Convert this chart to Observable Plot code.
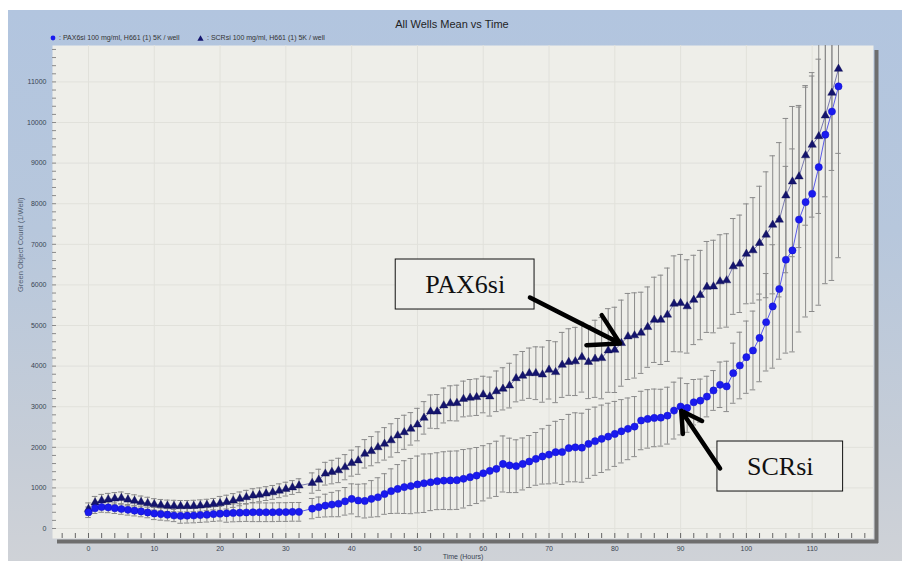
<!DOCTYPE html>
<html>
<head>
<meta charset="utf-8">
<script src="https://cdn.jsdelivr.net/npm/d3@7"></script>
<script src="https://cdn.jsdelivr.net/npm/@observablehq/plot@0.6"></script>
<style>
  body { margin: 0; background: #fff; }
  #wrap { position: relative; width: 904px; height: 561px; overflow: hidden; font-family: "Liberation Sans", Arial, sans-serif; }
  #panel { position: absolute; left: 8px; top: 10px; width: 894px; height: 551px;
    background: linear-gradient(to bottom, #B2C5DF 0%, #B7C7DC 40%, #C6CDD7 80%, #CFD2D7 100%); }
  #title { position: absolute; left: 0; top: 18px; width: 904px; text-align: center; font-size: 11px; color: #1f1f1f; }
  .leg { position: absolute; top: 33px; font-size: 7px; color: #333; white-space: nowrap; line-height: 9px; }
  .leg svg { vertical-align: -1px; margin-right: 3px; }
  #chart { position: absolute; left: 0; top: 0; }
</style>
</head>
<body>
<div id="wrap">
  <div id="panel"></div>
  <div id="title"></div>
  <div id="leg1" class="leg" style="left:50px"></div>
  <div id="leg2" class="leg" style="left:197px"></div>
  <div id="chart"></div>
</div>
<script>
// ---------- data ----------
const chartTitle = "All Wells Mean vs Time";
const seriesNames = [": PAX6si 100 mg/ml, H661 (1) 5K / well", ": SCRsi 100 mg/ml, H661 (1) 5K / well"];
const xLabel = "Time (Hours)";
const yLabel = "Green Object Count (1/Well)";

const hours = [0,1,2,3,4,5,6,7,8,9,10,11,12,13,14,15,16,17,18,19,20,21,22,23,24,25,26,27,28,29,30,31,32,
  34,35,36,37,38,39,40,41,42,43,44,45,46,47,48,49,50,51,52,53,54,55,56,57,58,59,60,
  61,62,63,64,65,66,67,68,69,70,71,72,73,74,75,76,77,78,79,80,81,82,83,84,85,86,87,88,89,90,
  91,92,93,94,95,96,97,98,99,100,101,102,103,104,105,106,107,108,109,110,111,112,113,114];

// circles (PAX6si legend entry)
const pax6siMean = [400,500,530,520,500,480,460,440,420,395,370,355,340,320,310,315,320,330,340,355,365,375,385,390,395,400,400,400,400,405,405,410,410,
  490,525,565,590,610,670,730,690,680,730,770,850,920,975,1020,1045,1085,1115,1140,1165,1180,1185,1190,1225,1265,1305,1360,
  1420,1470,1590,1555,1535,1590,1650,1715,1775,1820,1880,1885,1980,2000,1990,2085,2150,2210,2265,2330,2395,2455,2510,2660,2700,2725,2730,2780,2905,3005,
  2970,3110,3150,3250,3400,3540,3500,3825,4015,4220,4385,4695,5080,5470,5900,6620,6850,7610,8040,8245,8900,9700,10270,10890];
const pax6siErr = [130,130,130,130,130,130,130,130,130,130,150,150,150,150,180,180,180,180,180,180,180,220,220,220,220,230,230,230,230,230,230,230,230,
  250,250,280,300,320,340,370,400,420,450,480,500,550,600,650,680,700,720,700,700,710,720,720,720,700,690,680,
  670,680,690,670,650,640,640,650,680,720,760,800,830,850,850,850,840,830,820,800,780,760,740,720,720,710,700,700,700,700,
  600,560,530,500,490,560,620,740,820,890,970,1080,1200,1520,1730,2300,2500,2770,2830,2900,3400,3670,4160,4220];

// triangles (SCRsi legend entry)
const scrsiMean = [480,640,690,715,735,750,710,680,650,620,595,575,560,555,550,550,555,565,580,600,620,650,690,730,770,810,830,860,890,930,970,1010,1055,
  1120,1200,1350,1390,1430,1510,1610,1675,1840,1905,2000,2085,2170,2290,2370,2455,2560,2725,2880,2880,3030,3085,3090,3190,3220,3235,3300,
  3250,3380,3440,3520,3700,3760,3825,3825,3790,3910,3850,4030,4100,4115,4220,4100,4180,4195,4385,4400,4565,4730,4755,4820,4960,5140,5140,5265,5535,5550,
  5470,5630,5750,5950,5960,6085,6110,6455,6520,6765,6850,7030,7235,7480,7605,8200,8545,8670,9190,9450,9660,10170,10730,11320];
const scrsiErr = [150,150,150,150,150,150,150,150,150,150,140,140,140,140,140,140,140,140,140,140,170,170,170,170,170,170,170,170,170,170,170,170,170,
  250,260,280,290,300,310,320,340,350,360,380,400,410,420,420,400,400,400,410,420,430,430,440,440,450,450,450,
  480,500,520,550,580,600,620,650,680,720,750,800,820,840,860,900,950,1000,1030,1050,1060,1060,1050,1000,990,1050,1100,1150,1180,1200,
  1150,1100,1100,1120,1140,1150,1150,1180,1200,1230,1300,1400,1550,1700,1900,1900,1850,1750,1720,1780,1900,2000,1910,2080];

const xTickLabels = [0,10,20,30,40,50,60,70,80,90,100,110];
const yTickLabels = [0,1000,2000,3000,4000,5000,6000,7000,8000,9000,10000,11000];

// annotations (data coordinates)
const annoText = ["PAX6si", "SCRsi"];
const annoBoxX1 = [46.7, 95.6];
const annoBoxX2 = [67.8, 114.7];
const annoBoxY1 = [5394, 911];
const annoBoxY2 = [6626, 2143];
const arrowFromX = [67.1, 96.0];
const arrowFromY = [5690, 1480];
const arrowToX = [80.8, 90.1];
const arrowToY = [4560, 2900];

// ---------- build ----------
document.getElementById("title").textContent = chartTitle;
const circleIcon = '<svg width="6" height="6"><circle cx="3" cy="3" r="2.4" fill="#1a1aef"/></svg>';
const triIcon = '<svg width="7" height="6"><path d="M3.5,0.3 L6.6,5.8 L0.4,5.8 Z" fill="#14146e"/></svg>';
document.getElementById("leg1").innerHTML = circleIcon + seriesNames[0];
document.getElementById("leg2").innerHTML = triIcon + seriesNames[1];

const xDomain = [-5.47, 119.32];
const yDomain = [-246, 11897];
const pxX = (xDomain[1] - xDomain[0]) / (873 - 52);
const pxY = (yDomain[1] - yDomain[0]) / (538 - 45);

const circles = hours.map((t, i) => ({t, v: pax6siMean[i], e: pax6siErr[i]}));
const tris = hours.map((t, i) => ({t, v: scrsiMean[i], e: scrsiErr[i]}));
const annos = annoText.map((s, i) => ({s, x1: annoBoxX1[i], x2: annoBoxX2[i], y1: annoBoxY1[i], y2: annoBoxY2[i],
  ax1: arrowFromX[i], ay1: arrowFromY[i], ax2: arrowToX[i], ay2: arrowToY[i]}));

const minorX = d3.range(-4, 119, 2);
const minorY = d3.range(0, 11801, 200);
const errColor = "#8a8a8a";
const capW = 0.42;

function errMarks(data) {
  return [
    Plot.ruleX(data, {x: "t", y1: d => d.v - d.e, y2: d => d.v + d.e, stroke: errColor, strokeWidth: 1, clip: true}),
    Plot.ruleY(data, {y: d => d.v + d.e, x1: d => d.t - capW, x2: d => d.t + capW, stroke: errColor, strokeWidth: 1, clip: true}),
    Plot.ruleY(data, {y: d => d.v - d.e, x1: d => d.t - capW, x2: d => d.t + capW, stroke: errColor, strokeWidth: 1, clip: true})
  ];
}

const chart = Plot.plot({
  width: 904,
  height: 561,
  marginLeft: 52,
  marginRight: 31,
  marginTop: 45,
  marginBottom: 23,
  style: {background: "transparent", fontFamily: "'Liberation Sans', Arial, sans-serif", fontSize: "7px", color: "#34404f"},
  x: {domain: xDomain},
  y: {domain: yDomain},
  marks: [
    Plot.frame({fill: "#EEEEE9", stroke: null}),
    Plot.ruleX(xTickLabels, {stroke: "#E1E1DB", strokeWidth: 1}),
    Plot.ruleY(yTickLabels, {stroke: "#E1E1DB", strokeWidth: 1}),
    ...errMarks(tris),
    ...errMarks(circles),
    Plot.line(tris, {x: "t", y: "v", stroke: "#6d6da8", strokeWidth: 0.9}),
    Plot.line(circles, {x: "t", y: "v", stroke: "#5b5be8", strokeWidth: 1}),
    Plot.dot(tris, {x: "t", y: "v", symbol: "triangle", r: 3.1, fill: "#14146e", stroke: "#0c0c50", strokeWidth: 0.4}),
    Plot.dot(circles, {x: "t", y: "v", r: 3.6, fill: "#1a1aef", stroke: "#1010c8", strokeWidth: 0.5}),
    // tick marks
    Plot.ruleX(minorX, {y1: yDomain[0], y2: yDomain[0] + 5 * pxY, stroke: "#666", strokeWidth: 1}),
    Plot.ruleY(minorY, {x1: xDomain[0], x2: xDomain[0] + 4 * pxX, stroke: "#8a8a8a", strokeWidth: 1}),
    // axes
    Plot.axisX(xTickLabels, {tickSize: 0, tickPadding: 8, fontSize: 7, fill: "#3a4452", tickFormat: d => String(d), label: null}),
    Plot.axisY(yTickLabels, {tickSize: 0, tickPadding: 6, fontSize: 7, fill: "#3a4452", tickFormat: d => String(d), label: null}),
    Plot.text([xLabel], {frameAnchor: "bottom", dy: 20, fontSize: 7, fill: "#3a4452"}),
    Plot.text([yLabel], {frameAnchor: "left", rotate: -90, dx: -32, fontSize: 7.5, fill: "#556274"}),
    // 3D axis bars
    Plot.ruleY([yDomain[0]], {stroke: "#6e6e6e", strokeWidth: 4, dx: 5, dy: 3}),
    Plot.ruleX([xDomain[1]], {stroke: "#6e6e6e", strokeWidth: 4, dx: 3, dy: 5}),
    // annotations
    Plot.rect(annos, {x1: "x1", x2: "x2", y1: "y1", y2: "y2", fill: "#EFEFEB", stroke: "#111", strokeWidth: 1}),
    Plot.text(annos, {x: d => (d.x1 + d.x2) / 2, y: d => (d.y1 + d.y2) / 2, text: "s", fontFamily: "'Liberation Serif', 'Times New Roman', serif", fontSize: 26, fill: "#111"}),
    Plot.arrow(annos, {x1: "ax1", y1: "ay1", x2: "ax2", y2: "ay2", stroke: "#000", strokeWidth: 4.5, headLength: 18, headAngle: 60})
  ]
});
document.getElementById("chart").appendChild(chart);
</script>
</body>
</html>
